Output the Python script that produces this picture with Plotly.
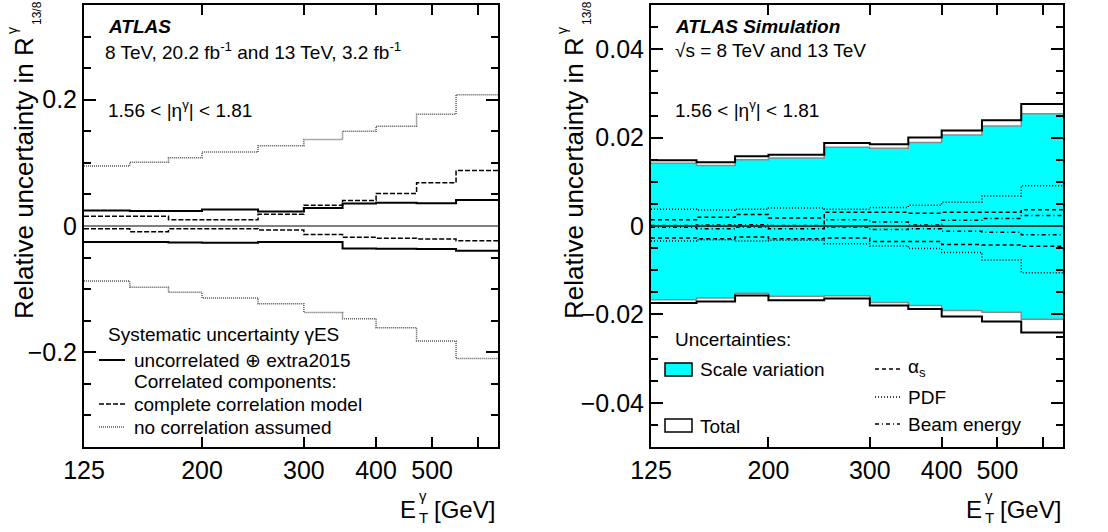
import math
import plotly.graph_objects as go

# E_T^gamma bin edges [GeV]
bin_edges = [125, 150, 175, 200, 250, 300, 350, 400, 470, 550, 650]

# Left panel: photon energy scale systematics on R^gamma_13/8
uncorr_up = [0.0247, 0.0238, 0.0238, 0.0262, 0.0230, 0.0284, 0.0355, 0.0370, 0.0362, 0.0412]
uncorr_dn = [-0.0252, -0.0252, -0.0262, -0.0265, -0.0255, -0.0255, -0.0355, -0.0362, -0.0365, -0.0392]
corr_up = [0.0155, 0.0155, 0.0098, 0.0098, 0.0185, 0.0330, 0.0405, 0.0515, 0.0685, 0.0880]
corr_dn = [-0.0045, -0.0090, -0.0045, -0.0045, -0.0065, -0.0135, -0.0180, -0.0195, -0.0205, -0.0235]
nocorr_up = [0.095, 0.101, 0.108, 0.117, 0.127, 0.137, 0.150, 0.158, 0.177, 0.208]
nocorr_dn = [-0.087, -0.097, -0.105, -0.114, -0.123, -0.137, -0.147, -0.161, -0.182, -0.210]

# Right panel: theoretical uncertainties on R^gamma_13/8
total_up = [0.0149, 0.0144, 0.0158, 0.0161, 0.0188, 0.0185, 0.0200, 0.0216, 0.0239, 0.0276]
total_dn = [-0.0174, -0.0171, -0.0157, -0.0168, -0.0164, -0.0180, -0.0188, -0.0205, -0.0216, -0.0241]
scale_up = [0.0142, 0.0137, 0.0150, 0.0154, 0.0178, 0.0176, 0.0189, 0.0206, 0.0226, 0.0254]
scale_dn = [-0.0167, -0.0163, -0.0152, -0.0159, -0.0158, -0.0173, -0.0180, -0.0191, -0.0195, -0.0211]
pdf_up = [0.0038, 0.0036, 0.0038, 0.0041, 0.0038, 0.0042, 0.0047, 0.0054, 0.0068, 0.0091]
pdf_dn = [-0.0034, -0.0031, -0.0034, -0.0032, -0.0040, -0.0045, -0.0051, -0.0060, -0.0077, -0.0106]
alphas_up = [0.0014, 0.0020, 0.0026, 0.0018, 0.0031, 0.0031, 0.0029, 0.0031, 0.0031, 0.0037]
alphas_dn = [-0.0027, -0.0029, -0.0025, -0.0029, -0.0027, -0.0035, -0.0035, -0.0042, -0.0043, -0.0046]
beam_up = [0.0001, 0.0002, 0.0003, 0.0001, 0.0014, 0.0009, 0.0002, 0.0013, 0.0017, 0.0024]
beam_dn = [-0.0003, -0.0006, -0.0002, -0.0006, -0.0002, -0.0008, -0.0006, -0.0012, -0.0014, -0.0020]

x_tick_vals = [125, 200, 300, 400, 500, 600]
x_tick_text = ["125", "200", "300", "400", "500", " "]

W, H = 1108, 532
FONT = "Liberation Sans, Arial, Helvetica, sans-serif"


def px(x):
    return x / W


def py(y):
    return 1 - y / H


def step_y(vals):
    return list(vals) + [vals[-1]]


fig = go.Figure()


def add_step(vals, xa, ya, color="black", width=2.0, dash="solid", fill=None, fillcolor=None):
    fig.add_trace(go.Scatter(
        x=bin_edges, y=step_y(vals), mode="lines", line_shape="hv",
        line=dict(color=color, width=width, dash=dash),
        fill=fill, fillcolor=fillcolor,
        xaxis=xa, yaxis=ya, showlegend=False, hoverinfo="skip"))


# ---- left panel
add_step(nocorr_up, "x", "y", color="#555555", width=1.5, dash="1px,1px")
add_step(nocorr_dn, "x", "y", color="#555555", width=1.5, dash="1px,1px")
add_step(corr_up, "x", "y", width=1.5, dash="5px,2px")
add_step(corr_dn, "x", "y", width=1.5, dash="5px,2px")
add_step(uncorr_up, "x", "y", width=2)
add_step(uncorr_dn, "x", "y", width=2)

# ---- right panel
add_step(scale_dn, "x2", "y2", color="#8a8a8a", width=1.5)
add_step(scale_up, "x2", "y2", color="#8a8a8a", width=1.5, fill="tonexty", fillcolor="#00ffff")
add_step(total_up, "x2", "y2", width=2)
add_step(total_dn, "x2", "y2", width=2)
add_step(pdf_up, "x2", "y2", width=1.5, dash="1px,2px")
add_step(pdf_dn, "x2", "y2", width=1.5, dash="1px,2px")
add_step(alphas_up, "x2", "y2", width=1.5, dash="4px,3px")
add_step(alphas_dn, "x2", "y2", width=1.5, dash="4px,3px")
add_step(beam_up, "x2", "y2", width=1.5, dash="4px,3px,1px,3px")
add_step(beam_dn, "x2", "y2", width=1.5, dash="4px,3px,1px,3px")

x_range = [math.log10(bin_edges[0]), math.log10(bin_edges[-1])]
ydom = [py(447), py(5)]


def xaxis_cfg(dom, anchor):
    return dict(
        domain=dom, anchor=anchor, type="log", range=x_range, automargin=False,
        tickvals=x_tick_vals, ticktext=x_tick_text,
        ticks="inside", ticklen=10, tickwidth=1.5, tickcolor="black",
        showline=True, linewidth=2, linecolor="black", mirror="ticks",
        showgrid=False, zeroline=False,
        tickfont=dict(family=FONT, size=25, color="black"))


def yaxis_cfg(dom, anchor, rng, dtick, minor_dtick):
    return dict(
        domain=dom, anchor=anchor, range=rng, tick0=0, dtick=dtick, automargin=False,
        ticks="inside", ticklen=12, tickwidth=1.5, tickcolor="black",
        minor=dict(dtick=minor_dtick, tick0=0, ticks="inside", ticklen=7,
                   tickwidth=1.5, tickcolor="black", showgrid=False),
        showline=True, linewidth=2, linecolor="black", mirror="ticks",
        showgrid=False, zeroline=False,
        tickfont=dict(family=FONT, size=25, color="black"))


fig.update_layout(
    width=W, height=H, margin=dict(l=0, r=0, t=0, b=0, autoexpand=False),
    paper_bgcolor="white", plot_bgcolor="white",
    font=dict(family=FONT, color="black"),
    xaxis=xaxis_cfg([px(84), px(498)], "y"),
    yaxis=yaxis_cfg(ydom, "x", [-0.35, 0.35], 0.2, 0.05),
    xaxis2=xaxis_cfg([px(651), px(1063)], "y2"),
    yaxis2=yaxis_cfg(ydom, "x2", [-0.05, 0.05], 0.02, 0.005),
)

shapes = []
# zero reference lines
shapes.append(dict(type="line", xref="x domain", yref="y", x0=0, x1=1, y0=0, y1=0,
                   line=dict(color="#808080", width=2), layer="above"))
shapes.append(dict(type="line", xref="x2 domain", yref="y2", x0=0, x1=1, y0=0, y1=0,
                   line=dict(color="#1a3a3a", width=2), layer="above"))

annotations = []


def text(x, y, s, size=19, xanchor="left", yanchor="middle", angle=0):
    annotations.append(dict(
        x=px(x), y=py(y), xref="paper", yref="paper", text=s, showarrow=False,
        xanchor=xanchor, yanchor=yanchor, textangle=angle,
        font=dict(family=FONT, size=size, color="black")))


def legend_line(x0, x1, y, dash, color="black", width=2):
    shapes.append(dict(type="line", xref="paper", yref="paper",
                       x0=px(x0), x1=px(x1), y0=py(y), y1=py(y),
                       line=dict(color=color, width=width, dash=dash)))


def legend_box(x0, x1, y0, y1, fillcolor):
    shapes.append(dict(type="rect", xref="paper", yref="paper",
                       x0=px(x0), x1=px(x1), y0=py(y1), y1=py(y0),
                       fillcolor=fillcolor, line=dict(color="black", width=1.5)))


# ---- left panel labels
text(106, 26, "<b><i>ATLAS</i></b>", size=19)
text(103, 51, "8 TeV, 20.2 fb<sup>-1</sup> and 13 TeV, 3.2 fb<sup>-1</sup>", size=19)
text(106, 109, "1.56 < |η<sup>γ</sup>| < 1.81", size=19)

text(106, 334, "Systematic uncertainty γES", size=19)
legend_line(99, 125, 360, "solid")
text(132, 360, "uncorrelated ⊕ extra2015", size=19)
text(132, 381, "Correlated components:", size=19)
legend_line(99, 125, 404, "5px,2px", width=1.5)
text(132, 404, "complete correlation model", size=19)
legend_line(99, 125, 427, "1px,1px", color="#555555", width=1.5)
text(132, 427, "no correlation assumed", size=19)

# ---- right panel labels
text(673, 26, "<b><i>ATLAS Simulation</i></b>", size=19)
text(673, 51, "√s = 8 TeV and 13 TeV", size=19)
text(673, 109, "1.56 < |η<sup>γ</sup>| < 1.81", size=19)

text(673, 339, "Uncertainties:", size=19)
legend_box(665, 692, 363, 376, "#00ffff")
text(698, 369, "Scale variation", size=19)
legend_box(665, 692, 419, 432, "white")
text(698, 426, "Total", size=19)
legend_line(875, 900, 369, "4px,3px", width=1.5)
text(906, 368, "α<sub>s</sub>", size=19)
legend_line(875, 900, 397, "1px,2px", width=1.5)
text(906, 397, "PDF", size=19)
legend_line(875, 900, 424, "4px,3px,1px,3px", width=1.5)
text(906, 424, "Beam energy", size=19)

# ---- axis titles (R^gamma_13/8 and E_T^gamma with stacked indices)
for dx in (0, 550):
    text(24 + dx, 35, "Relative uncertainty in R", size=26, xanchor="center", yanchor="top", angle=-90)
    text(12 + dx, 31, "γ", size=14, xanchor="center", angle=-90)
    text(37 + dx, 13, "13/8", size=12, xanchor="center", angle=-90)

for dx in (0, 566):
    text(418 + dx, 509, "E", size=24, xanchor="right")
    text(423 + dx, 495, "γ", size=15, xanchor="center")
    text(423 + dx, 517, "T", size=15, xanchor="center")
    text(497 + dx, 509, "[GeV]", size=24, xanchor="right")

fig.update_layout(shapes=shapes, annotations=annotations)
fig.write_html("out.html")
